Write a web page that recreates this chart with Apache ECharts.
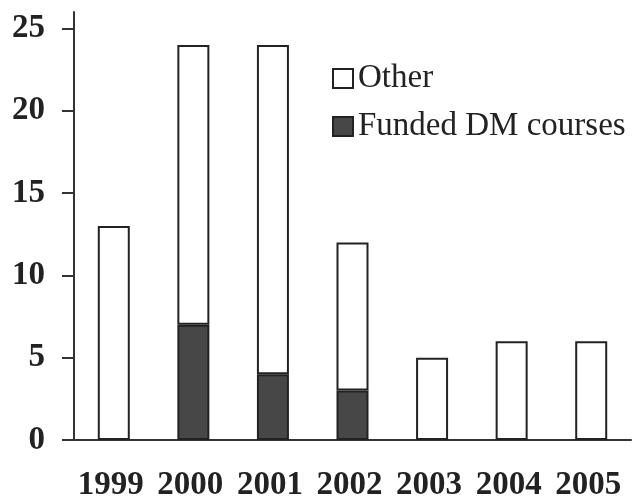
<!DOCTYPE html>
<html><head><meta charset="utf-8">
<script src="https://cdn.jsdelivr.net/npm/echarts@6/dist/echarts.min.js"></script>
<style>html,body{margin:0;padding:0;background:#fff}#c{width:634px;height:497px}</style>
</head><body><div id="c"></div>
<script>
const years = ['1999','2000','2001','2002','2003','2004','2005'];
const funded = [null, 7, 4, 3, null, null, null];
const other = [13, 17, 20, 9, 5, 6, 6];
const yTicks = [0, 5, 10, 15, 20, 25];

const chart = echarts.init(document.getElementById('c'));
const font = 'Liberation Serif';
chart.setOption({
  animation: false,
  backgroundColor: '#fff',
  textStyle: {fontFamily: font},
  grid: {left: 74, right: 3, top: 12, bottom: 57, containLabel: false, outerBoundsMode: 'none'},
  legend: {
    orient: 'vertical', left: 332, top: 62, padding: 0,
    icon: 'rect',
    itemWidth: 20, itemHeight: 19, itemGap: 15,
    textStyle: {fontFamily: font, fontSize: 33, color: '#222'},
    data: ['Other', 'Funded DM courses']
  },
  xAxis: {
    type: 'category', data: years,
    axisLine: {lineStyle: {color: '#333', width: 2}},
    axisTick: {length: 11, lineStyle: {color: '#333', width: 2}},
    axisLabel: {interval: 0, margin: 29, padding: [0, 6, 0, 0], fontFamily: font, fontSize: 33, fontWeight: 'bold', color: '#222'}
  },
  yAxis: {
    type: 'value', min: 0, max: 26,
    splitLine: {show: false},
    axisLine: {show: true, lineStyle: {color: '#333', width: 2}},
    axisTick: {show: true, length: 12, customValues: yTicks, lineStyle: {color: '#333', width: 2}},
    axisLabel: {margin: 29, customValues: yTicks, fontFamily: font, fontSize: 33, fontWeight: 'bold', color: '#222'}
  },
  series: [
    {name: 'Funded DM courses', type: 'bar', stack: 's', data: funded, barWidth: 32,
     itemStyle: {color: '#474747', borderColor: '#222', borderWidth: 2}},
    {name: 'Other', type: 'bar', stack: 's', data: other, barWidth: 32,
     itemStyle: {color: '#fff', borderColor: '#222', borderWidth: 2}}
  ]
});
</script></body></html>
